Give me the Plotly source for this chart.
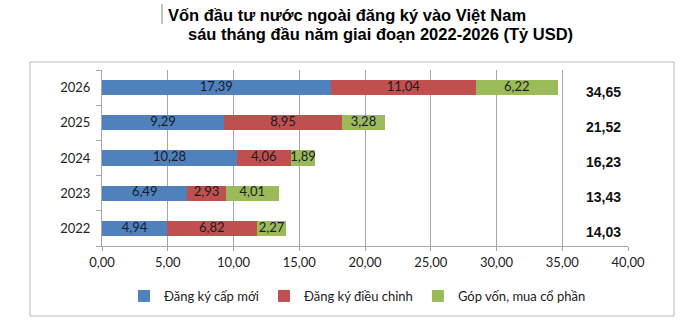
import plotly.graph_objects as go

years = ["2022", "2023", "2024", "2025", "2026"]
dang_ky_cap_moi = [4.94, 6.49, 10.28, 9.29, 17.39]
dang_ky_dieu_chinh = [6.82, 2.93, 4.06, 8.95, 11.04]
gop_von = [2.27, 4.01, 1.89, 3.28, 6.22]
series_names = ["Đăng ký cấp mới", "Đăng ký điều chỉnh", "Góp vốn, mua cổ phần"]
colors = ["#4F81BD", "#C0504D", "#9BBB59"]
x_ticks = [0, 5, 10, 15, 20, 25, 30, 35, 40]
title_line1 = "Vốn đầu tư nước ngoài đăng ký vào Việt Nam"
title_line2 = "sáu tháng đầu năm giai đoạn 2022-2026 (Tỷ USD)"

all_series = [dang_ky_cap_moi, dang_ky_dieu_chinh, gop_von]
totals = [round(a + b + c, 2) for a, b, c in zip(*all_series)]

LBL = "Lato, Noto Sans, sans-serif"
BOLD = "Liberation Sans, Arial, sans-serif"

fig = go.Figure()
base = [0.0] * len(years)
label_x, label_y, label_t = [], [], []
for name, vals, col in zip(series_names, all_series, colors):
    fig.add_trace(go.Bar(
        y=years, x=vals, name=name, orientation="h",
        marker=dict(color=col, line=dict(width=0)),
        textposition="none", hoverinfo="x+name",
    ))
    for i, v in enumerate(vals):
        label_x.append(base[i] + v / 2)
        label_y.append(years[i])
        label_t.append(f"{v:.2f}".replace(".", ","))
        base[i] += v

fig.add_trace(go.Scatter(
    x=label_x, y=label_y, mode="text", text=label_t, textposition="middle center",
    textfont=dict(family=LBL, size=13, color="#1a1a2a"), showlegend=False, hoverinfo="skip",
))

for i, tot in enumerate(totals):
    fig.add_annotation(
        x=38.1, y=i, xref="x", yref="y", yshift=-4, showarrow=False,
        text="<b>" + f"{tot:.2f}".replace(".", ",") + "</b>",
        font=dict(family=BOLD, size=14, color="#111"),
    )

# title
fig.add_annotation(x=(166 - 102) / 526, y=(246 - 15) / 176, xref="paper", yref="paper",
                   xanchor="left", yanchor="middle", showarrow=False, text=f"<b>{title_line1}</b>",
                   font=dict(family=BOLD, size=16.5, color="#000"))
fig.add_annotation(x=(186 - 102) / 526, y=(246 - 34) / 176, xref="paper", yref="paper",
                   xanchor="left", yanchor="middle", showarrow=False, text=f"<b>{title_line2}</b>",
                   font=dict(family=BOLD, size=16.5, color="#000"))

# decorative vertical bar by title, and outer chart border
fig.add_shape(type="line", xref="paper", yref="paper",
              x0=(162 - 102) / 526, x1=(162 - 102) / 526,
              y0=(246 - 4) / 176, y1=(246 - 24) / 176,
              line=dict(color="#888", width=1))
fig.add_shape(type="rect", xref="paper", yref="paper",
              x0=(30 - 102) / 526, x1=(674 - 102) / 526,
              y0=(246 - 316) / 176, y1=(246 - 62) / 176,
              line=dict(color="#BBBBBB", width=1), fillcolor="rgba(0,0,0,0)", layer="below")

fig.update_layout(
    barmode="stack", bargap=0.57,
    width=700, height=328,
    margin=dict(l=102, r=72, t=70, b=82),
    paper_bgcolor="white", plot_bgcolor="white",
    separators=",.",
    showlegend=True,
    legend=dict(orientation="h", x=(124 - 102) / 526, xanchor="left",
                y=(246 - 296) / 176, yanchor="middle",
                font=dict(family=LBL, size=13, color="#222"),
                traceorder="normal", itemwidth=30),
    xaxis=dict(range=[0, 40], tickvals=x_ticks, tickformat=".2f",
               showgrid=True, gridcolor="#A6A6A6", gridwidth=1,
               showline=True, linecolor="#A6A6A6", ticks="outside", ticklen=4, tickcolor="#A6A6A6",
               tickfont=dict(family=LBL, size=13, color="#222"), zeroline=False, fixedrange=True),
    yaxis=dict(type="category", categoryorder="array", categoryarray=years, range=[-0.5, 4.5],
               showgrid=False, showline=True, linecolor="#A6A6A6",
               ticks="outside", ticklen=5, tickcolor="#A6A6A6", tickson="boundaries",
               tickfont=dict(family=LBL, size=13, color="#222"), ticklabelstandoff=8),
)

fig.write_html("out.html")
